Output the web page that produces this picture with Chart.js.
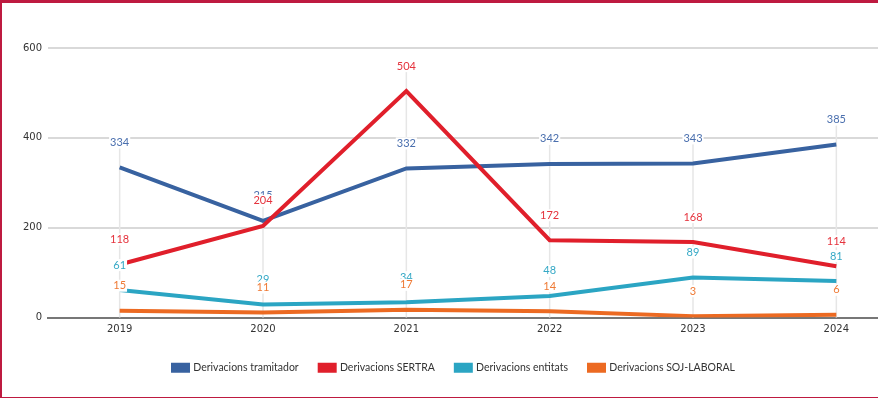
<!DOCTYPE html>
<html>
<head>
<meta charset="utf-8">
<script src="https://cdn.jsdelivr.net/npm/chart.js@4"></script>
<style>
  html, body { margin: 0; padding: 0; background: #fff; overflow: hidden; }
  #wrap { position: relative; width: 910px; height: 398px; }
  #marc { position: absolute; left: 0; top: 0; width: 878px; height: 398px; box-sizing: border-box;
          border-top: 3px solid #be1a40; border-left: 2px solid #be1a40; border-bottom: 1px solid #be1a40;
          pointer-events: none; }
</style>
</head>
<body>
<div id="wrap">
  <canvas id="grafic" width="910" height="398"></canvas>
  <div id="marc"></div>
</div>
<script>
  // Dades llegides de la imatge de referència
  var ANYS = ["2019", "2020", "2021", "2022", "2023", "2024"];
  var TRAMITADOR = [334, 215, 332, 342, 343, 385];
  var SERTRA = [118, 204, 504, 172, 168, 114];
  var ENTITATS = [61, 29, 34, 48, 89, 81];
  var SOJ_LABORAL = [15, 11, 17, 14, 3, 6];
  var Y_TICKS = [0, 200, 400, 600];

  var SERIES = [
    { nom: "Derivacions tramitador", valors: TRAMITADOR, color: "#3862a0", text: "#4a6fae", ordre: 4 },
    { nom: "Derivacions SERTRA", valors: SERTRA, color: "#e01f2b", text: "#e5333d", ordre: 3 },
    { nom: "Derivacions entitats", valors: ENTITATS, color: "#2ba5c3", text: "#36a9c6", ordre: 2 },
    { nom: "Derivacions SOJ-LABORAL", valors: SOJ_LABORAL, color: "#ec6a22", text: "#ef7a35", ordre: 1 }
  ];

  var DESPL = 25; // distància etiqueta-punt

  // Línies verticals fines des de l'etiqueta més alta fins a l'eix
  var guies = {
    id: "guies",
    beforeDatasetsDraw: function (chart) {
      var ctx = chart.ctx, area = chart.chartArea;
      var metas = chart.getSortedVisibleDatasetMetas();
      ctx.save();
      ctx.strokeStyle = "#e6e6e6";
      ctx.lineWidth = 1.5;
      for (var i = 0; i < ANYS.length; i++) {
        var x = null, minY = Infinity;
        metas.forEach(function (m) {
          var p = m.data[i];
          if (!p) return;
          x = p.x;
          minY = Math.min(minY, p.y - DESPL);
        });
        if (x === null) continue;
        ctx.beginPath();
        ctx.moveTo(x, minY);
        ctx.lineTo(x, area.bottom);
        ctx.stroke();
      }
      ctx.restore();
    }
  };

  // Etiquetes de valor amb fons blanc (sense plugin extern)
  var etiquetes = {
    id: "etiquetes",
    afterDatasetsDraw: function (chart) {
      var ctx = chart.ctx;
      ctx.save();
      ctx.font = "11px Lato, 'Open Sans', sans-serif";
      ctx.textAlign = "center";
      ctx.textBaseline = "middle";
      chart.data.datasets.forEach(function (ds, di) {
        var meta = chart.getDatasetMeta(di);
        meta.data.forEach(function (p, i) {
          var txt = String(ds.data[i]);
          var w = ctx.measureText(txt).width;
          var y = p.y - DESPL;
          ctx.fillStyle = "#fff";
          ctx.fillRect(p.x - w / 2 - 1, y - 6, w + 2, 12);
          ctx.fillStyle = SERIES[di].text;
          ctx.fillText(txt, p.x, y);
        });
      });
      ctx.restore();
    }
  };

  new Chart(document.getElementById("grafic"), {
    type: "line",
    data: {
      labels: ANYS,
      datasets: SERIES.map(function (s) {
        return {
          label: s.nom,
          data: s.valors,
          borderColor: s.color,
          backgroundColor: s.color,
          borderWidth: 4,
          pointRadius: 0,
          tension: 0,
          order: s.ordre
        };
      })
    },
    options: {
      responsive: false,
      animation: false,
      layout: { padding: { top: 48, right: 2, bottom: 15, left: 0 } },
      plugins: {
        tooltip: { enabled: false },
        legend: {
          position: "bottom",
          labels: {
            boxWidth: 15,
            boxHeight: 6,
            padding: 21,
            color: "#333",
            font: { family: "Lato, 'Open Sans', sans-serif", size: 10.5 },
            sort: function (a, b) { return a.datasetIndex - b.datasetIndex; }
          }
        }
      },
      scales: {
        x: {
          offset: true,
          grid: { display: false, drawTicks: false },
          border: { color: "#777", width: 2 },
          ticks: { color: "#333", padding: 6, font: { family: "'DejaVu Sans'", size: 10 } }
        },
        y: {
          min: 0,
          max: 600,
          afterBuildTicks: function (scale) {
            scale.ticks = Y_TICKS.map(function (v) { return { value: v }; });
          },
          afterFit: function (scale) { scale.width = 48; },
          grid: { color: "#d9d9d9", lineWidth: 2, drawTicks: false },
          border: { display: false },
          ticks: { color: "#333", padding: 6, font: { family: "'DejaVu Sans'", size: 10 } }
        }
      }
    },
    plugins: [guies, etiquetes]
  });
</script>
</body>
</html>
